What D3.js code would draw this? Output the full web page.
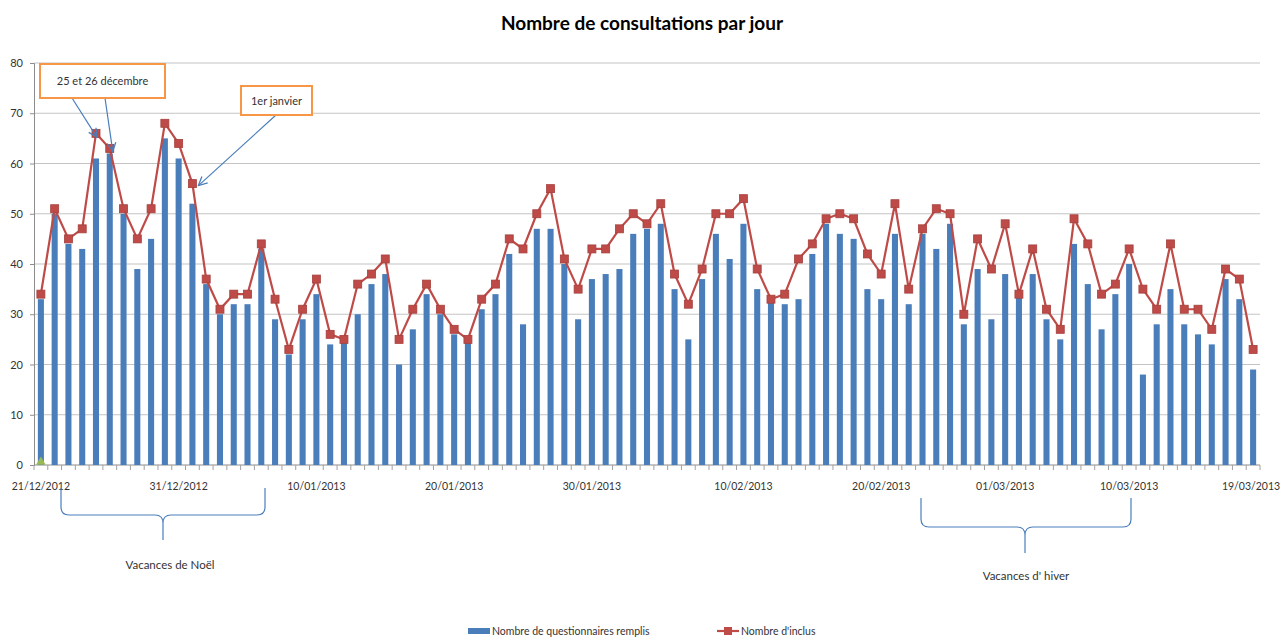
<!DOCTYPE html>
<html>
<head>
<meta charset="utf-8">
<script src="https://cdn.jsdelivr.net/npm/d3@7"></script>
<style>
  body { margin: 0; background: #fff; }
  svg text { font-family: Lato, "Liberation Sans", sans-serif; fill: #222; }
</style>
</head>
<body>
<script>
var width = 1282, height = 639;

// data: one value per day, 21/12/2012 -> 19/03/2013
var startDate = new Date(2012, 11, 21);
var nDays = 89;
var questionnaires = [
  33,50,44,43,61,62,50,39,45,65,
  61,52,36,30,32,32,43,29,22,29,
  34,24,25,30,36,38,20,27,34,30,
  26,25,31,34,42,28,47,47,40,29,
  37,38,39,46,47,48,35,25,37,46,
  41,48,35,33,32,33,42,48,46,45,
  35,33,46,32,46,43,48,28,39,29,
  38,34,38,29,25,44,36,27,34,40,
  18,28,35,28,26,24,37,33,19
];
var inclus = [
  34,51,45,47,66,63,51,45,51,68,
  64,56,37,31,34,34,44,33,23,31,
  37,26,25,36,38,41,25,31,36,31,
  27,25,33,36,45,43,50,55,41,35,
  43,43,47,50,48,52,38,32,39,50,
  50,53,39,33,34,41,44,49,50,49,
  42,38,52,35,47,51,50,30,45,39,
  48,34,43,31,27,49,44,34,36,43,
  35,31,44,31,31,27,39,37,23
];
var thirdSeries = [0];   // small green marker on the first day
var tickLabels = ["21/12/2012","31/12/2012","10/01/2013","20/01/2013","30/01/2013",
                  "10/02/2013","20/02/2013","01/03/2013","10/03/2013","19/03/2013"];
var yTicks = [0,10,20,30,40,50,60,70,80];

var days = d3.timeDay.range(startDate, d3.timeDay.offset(startDate, nDays));
var fmt = d3.timeFormat("%d/%m/%Y");

var x = d3.scaleBand()
    .domain(days.map(fmt))
    .range([34, 1260])
    .paddingInner(0.56)
    .paddingOuter(0.28);
var cx = function(i) { return x(fmt(days[i])) + x.bandwidth() / 2; };
var y = d3.scaleLinear().domain([0, 80]).range([465, 63]);

var svg = d3.select('body').append('svg')
    .attr('width', width)
    .attr('height', height);

// title
svg.append('text')
    .attr('x', 642).attr('y', 30)
    .attr('text-anchor', 'middle')
    .style('font-size', '19px')
    .style('font-weight', 'bold')
    .style('fill', '#000')
    .text('Nombre de consultations par jour');

// grid
svg.append('g').selectAll('line')
    .data(yTicks.slice(1))
    .enter().append('line')
    .attr('x1', 34).attr('x2', 1260)
    .attr('y1', function(d) { return y(d); })
    .attr('y2', function(d) { return y(d); })
    .attr('stroke', '#c4c4c4')
    .attr('stroke-width', 1.2);

// y axis
var yAxis = svg.append('g')
    .attr('transform', 'translate(34,0)')
    .call(d3.axisLeft(y).tickValues(yTicks).tickSize(4).tickPadding(7));
yAxis.select('.domain').attr('stroke', '#8c8c8c');
yAxis.selectAll('.tick line').attr('stroke', '#8c8c8c');
yAxis.selectAll('text').style('font-size', '11px').style('fill', '#333');

// x axis
svg.append('line')
    .attr('x1', 34).attr('x2', 1260)
    .attr('y1', y(0)).attr('y2', y(0))
    .attr('stroke', '#8c8c8c');
svg.append('g').selectAll('line')
    .data(d3.range(nDays + 1))
    .enter().append('line')
    .attr('x1', function(i) { return 34 + i * (1226 / nDays); })
    .attr('x2', function(i) { return 34 + i * (1226 / nDays); })
    .attr('y1', y(0)).attr('y2', y(0) + 5)
    .attr('stroke', '#a0a0a0');

svg.append('g').selectAll('text')
    .data(tickLabels)
    .enter().append('text')
    .attr('x', function(d, i) {
      var c = x(d) + x.bandwidth() / 2;
      return i === tickLabels.length - 1 ? Math.min(c, 1251) : c;
    })
    .attr('y', 490)
    .attr('text-anchor', 'middle')
    .style('font-size', '10.5px')
    .style('fill', '#333')
    .text(function(d) { return d; });

// bars
svg.append('g').selectAll('rect')
    .data(questionnaires)
    .enter().append('rect')
    .attr('x', function(d, i) { return x(fmt(days[i])); })
    .attr('width', x.bandwidth())
    .attr('y', function(d) { return y(d); })
    .attr('height', function(d) { return y(0) - y(d); })
    .attr('fill', '#4a7ebb');

// line
var line = d3.line()
    .x(function(d, i) { return cx(i); })
    .y(function(d) { return y(d); });
svg.append('path')
    .datum(inclus)
    .attr('d', line)
    .attr('fill', 'none')
    .attr('stroke', '#be4b48')
    .attr('stroke-width', 2.2);
svg.append('g').selectAll('rect')
    .data(inclus)
    .enter().append('rect')
    .attr('x', function(d, i) { return cx(i) - 4; })
    .attr('y', function(d) { return y(d) - 4; })
    .attr('width', 8).attr('height', 8)
    .attr('fill', '#be4b48')
    .attr('stroke', '#a5403d')
    .attr('stroke-width', 0.8);

// third series marker
svg.append('g').selectAll('path')
    .data(thirdSeries)
    .enter().append('path')
    .attr('d', d3.symbol().type(d3.symbolTriangle).size(40))
    .attr('transform', function(d, i) { return 'translate(' + cx(i) + ',' + (y(d) - 3) + ')'; })
    .attr('fill', '#98b954');

// annotations
var defs = svg.append('defs');
defs.append('marker')
    .attr('id', 'arr')
    .attr('viewBox', '0 0 10 10')
    .attr('refX', 9).attr('refY', 5)
    .attr('markerWidth', 9).attr('markerHeight', 9)
    .attr('orient', 'auto')
    .append('path')
    .attr('d', 'M1,1 L9,5 L1,9')
    .attr('fill', 'none')
    .attr('stroke', '#4a7ebb')
    .attr('stroke-width', 1.2);

function box(x0, y0, w, h, label) {
  svg.append('rect')
      .attr('x', x0).attr('y', y0).attr('width', w).attr('height', h)
      .attr('fill', '#fff')
      .attr('stroke', '#f79646')
      .attr('stroke-width', 2);
  svg.append('text')
      .attr('x', x0 + w / 2).attr('y', y0 + h / 2 + 4)
      .attr('text-anchor', 'middle')
      .style('font-size', '11px')
      .style('fill', '#333')
      .text(label);
}
function arrow(x1, y1, x2, y2) {
  svg.append('line')
      .attr('x1', x1).attr('y1', y1).attr('x2', x2).attr('y2', y2)
      .attr('stroke', '#4a7ebb')
      .attr('stroke-width', 1.2)
      .attr('marker-end', 'url(#arr)');
}
arrow(72, 98, cx(4) + 1, y(inclus[4]) + 4);
arrow(105, 98, cx(5) + 3, y(inclus[5]) + 3);
arrow(276, 115, cx(11) + 6, y(inclus[11]) + 2);
box(40, 64, 125, 34, '25 et 26 décembre');
box(241, 86, 71, 29, '1er janvier');

function brace(x1, x2, xm, top, mid, tip) {
  var r = 8;
  var p = d3.path();
  p.moveTo(x1, top);
  p.lineTo(x1, mid - r);
  p.quadraticCurveTo(x1, mid, x1 + r, mid);
  p.lineTo(xm - r, mid);
  p.quadraticCurveTo(xm, mid, xm, mid + r);
  p.lineTo(xm, tip);
  p.moveTo(x2, top);
  p.lineTo(x2, mid - r);
  p.quadraticCurveTo(x2, mid, x2 - r, mid);
  p.lineTo(xm + r, mid);
  p.quadraticCurveTo(xm, mid, xm, mid + r);
  svg.append('path')
      .attr('d', p.toString())
      .attr('fill', 'none')
      .attr('stroke', '#4a7ebb')
      .attr('stroke-width', 1.2);
}
brace(61, 265, 163, 488, 515, 540);
brace(921, 1131, 1025, 498, 527, 553);

svg.append('text').attr('x', 170).attr('y', 569)
    .attr('text-anchor', 'middle').style('font-size', '11.5px').style('fill', '#333')
    .text('Vacances de Noël');
svg.append('text').attr('x', 1026).attr('y', 580)
    .attr('text-anchor', 'middle').style('font-size', '11.5px').style('fill', '#333')
    .text("Vacances d' hiver");

// legend
var lg = svg.append('g');
lg.append('rect').attr('x', 468).attr('y', 628).attr('width', 22).attr('height', 6).attr('fill', '#4a7ebb');
lg.append('text').attr('x', 492).attr('y', 635).style('font-size', '10.5px').style('fill', '#333')
    .text('Nombre de questionnaires remplis');
lg.append('line').attr('x1', 717).attr('x2', 739).attr('y1', 631).attr('y2', 631)
    .attr('stroke', '#be4b48').attr('stroke-width', 2.2);
lg.append('rect').attr('x', 724).attr('y', 627).attr('width', 8).attr('height', 8).attr('fill', '#be4b48');
lg.append('text').attr('x', 741).attr('y', 635).style('font-size', '10.5px').style('fill', '#333')
    .text("Nombre d'inclus");
</script>
</body>
</html>
